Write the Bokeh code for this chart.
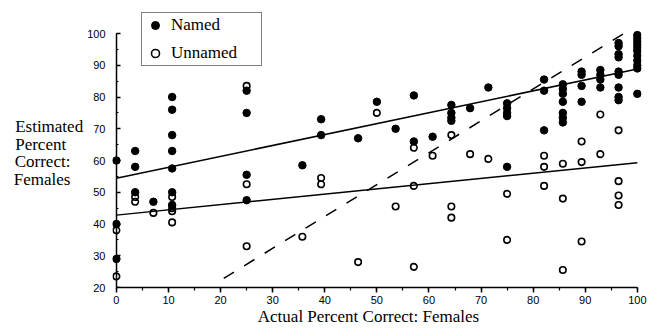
from bokeh.plotting import figure
from bokeh.models import Range1d, Legend, LegendItem, SingleIntervalTicker, LinearAxis
from bokeh.embed import file_html
from bokeh.resources import INLINE

# Filled points: Named
named_x = [0, 0, 0,
           3.6, 3.6, 3.6,
           7.1,
           10.7, 10.7, 10.7, 10.7, 10.7, 10.7, 10.7,
           25, 25, 25, 25,
           35.7,
           39.3, 39.3,
           46.4,
           50,
           53.6,
           57.1, 57.1,
           60.7,
           64.3, 64.3, 64.3, 64.3,
           67.9,
           71.4,
           75, 75, 75, 75, 75,
           82.1, 82.1, 82.1,
           85.7, 85.7, 85.7, 85.7, 85.7, 85.7, 85.7,
           89.3, 89.3, 89.3, 89.3,
           92.9, 92.9, 92.9, 92.9,
           96.4, 96.4, 96.4, 96.4, 96.4, 96.4, 96.4, 96.4, 96.4,
           100, 100, 100, 100, 100, 100, 100, 100, 100, 100, 100]
named_y = [60, 40, 29,
           63, 58, 50,
           47,
           80, 76, 68, 63, 57.5, 50, 46,
           82, 75, 55.5, 47.5,
           58.5,
           73, 68,
           67,
           78.5,
           70,
           80.5, 66,
           67.5,
           77.5, 75, 73.5, 72.5,
           76.5,
           83,
           78, 76.5, 75, 74, 58,
           85.5, 82, 69.5,
           84, 82.5, 81, 78.5, 75, 73.5, 72,
           88, 87, 83.5, 78.5,
           88.5, 87, 85.5, 83,
           97, 96, 93.5, 92.5, 88, 87, 83, 80, 79,
           99.5, 98.5, 97.5, 96.5, 95.5, 94.5, 93, 91.5, 90, 89, 81]

# Open points: Unnamed
unnamed_x = [0, 0,
             3.6, 3.6,
             7.1,
             10.7, 10.7, 10.7, 10.7,
             25, 25, 25,
             35.7,
             39.3, 39.3,
             46.4,
             50,
             53.6,
             57.1, 57.1, 57.1,
             60.7,
             64.3, 64.3, 64.3,
             67.9,
             71.4,
             75, 75,
             82.1, 82.1, 82.1,
             85.7, 85.7, 85.7,
             89.3, 89.3, 89.3,
             92.9, 92.9,
             96.4, 96.4, 96.4, 96.4]
unnamed_y = [38, 23.5,
             48.5, 47,
             43.5,
             48.5, 45, 44, 40.5,
             83.5, 52.5, 33,
             36,
             54.5, 52.5,
             28,
             75,
             45.5,
             64, 52, 26.5,
             61.5,
             68, 45.5, 42,
             62,
             60.5,
             49.5, 35,
             61.5, 58, 52,
             59, 48, 25.5,
             66, 59.5, 34.5,
             74.5, 62,
             69.5, 53.5, 49, 46]

# Fitted lines and reference line
fit_x = [0, 100]
named_fit_y = [54.4, 88.8]
unnamed_fit_y = [42.8, 59.3]
diag_x = [20.6, 98.7]
diag_y = [22.9, 101.3]

y_tick_values = [20, 30, 40, 50, 60, 70, 80, 90, 100]

p = figure(width=653, height=334, output_backend="svg", toolbar_location=None,
           x_range=Range1d(-0.75, 100.8), y_range=Range1d(20, 110.4),
           min_border_left=112, min_border_right=12,
           min_border_top=0, min_border_bottom=47)
p.outline_line_color = None
p.xgrid.visible = False
p.ygrid.visible = False
p.background_fill_color = "white"

p.line(fit_x, named_fit_y, line_color="black", line_width=1.6)
p.line(fit_x, unnamed_fit_y, line_color="black", line_width=1.4)
p.line(diag_x, diag_y, line_color="black", line_width=1.5, line_dash="12 12")

r_named = p.scatter(named_x, named_y, marker="circle", size=7.5,
                    fill_color="black", line_color="black", line_width=1)
r_unnamed = p.scatter(unnamed_x, unnamed_y, marker="circle", size=6.5,
                      fill_color=None, line_color="black", line_width=1.6)

legend = Legend(items=[LegendItem(label="Named", renderers=[r_named]),
                       LegendItem(label="Unnamed", renderers=[r_unnamed])],
                location=(29, 221), margin=0, padding=2, spacing=8,
                glyph_width=22, glyph_height=20, label_height=20, label_width=88,
                label_standoff=5,
                label_text_font="Liberation Serif", label_text_font_size="17px",
                label_text_color="black",
                border_line_color="black", border_line_width=1.5,
                background_fill_color="white", background_fill_alpha=1)
p.add_layout(legend)

# X axis
xa = p.xaxis[0]
xa.bounds = (0, 100)
xa.ticker = SingleIntervalTicker(interval=10, num_minor_ticks=2)
xa.axis_line_width = 1.5
xa.major_tick_line_width = 1.5
xa.minor_tick_line_width = 1.2
xa.major_tick_in = 0
xa.major_tick_out = 5
xa.minor_tick_in = 0
xa.minor_tick_out = 3
xa.major_label_standoff = 3
xa.major_label_text_font = "Liberation Sans"
xa.major_label_text_font_size = "11px"
xa.major_label_text_color = "black"
xa.axis_label = "Actual Percent Correct: Females    "
xa.axis_label_text_font = "Liberation Serif"
xa.axis_label_text_font_size = "17px"
xa.axis_label_text_font_style = "normal"
xa.axis_label_text_color = "black"
xa.axis_label_standoff = 0

# Y axis (labels only, at the frame edge)
ya = p.yaxis[0]
ya.bounds = (20, 100)
ya.ticker = SingleIntervalTicker(interval=10, num_minor_ticks=2)
ya.axis_line_color = None
ya.major_tick_line_color = None
ya.minor_tick_line_color = None
ya.major_label_standoff = 1
ya.major_label_text_font = "Liberation Sans"
ya.major_label_text_font_size = "11px"
ya.major_label_text_color = "black"
ya.axis_label = " \nEstimated\nPercent    \nCorrect:   \nFemales   "
ya.axis_label_orientation = "horizontal"
ya.axis_label_text_font = "Liberation Serif"
ya.axis_label_text_font_size = "17px"
ya.axis_label_text_font_style = "normal"
ya.axis_label_text_color = "black"
ya.axis_label_text_line_height = 0.94
ya.axis_label_standoff = 1

# Y axis line and ticks drawn at x = 0
ya2 = LinearAxis(fixed_location=0, bounds=(20, 100),
                 ticker=SingleIntervalTicker(interval=10, num_minor_ticks=2),
                 major_label_overrides={v: "" for v in y_tick_values},
                 major_label_standoff=0,
                 axis_line_width=1.5, major_tick_line_width=1.5, minor_tick_line_width=1.2,
                 major_tick_in=4, major_tick_out=0, minor_tick_in=2, minor_tick_out=0)
p.add_layout(ya2, "left")

open("out.html", "w").write(file_html(p, INLINE))
